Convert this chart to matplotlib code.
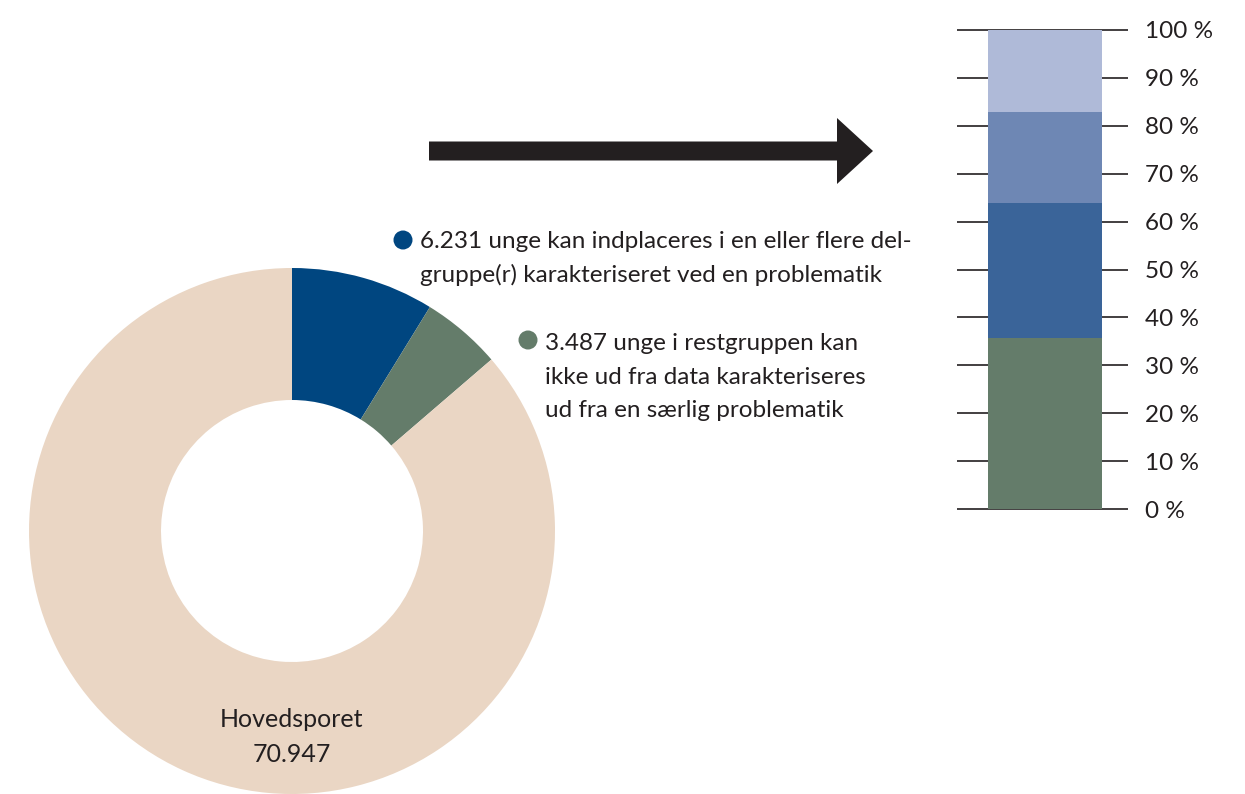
import matplotlib
matplotlib.use('Agg')
import matplotlib.pyplot as plt
from matplotlib.patches import FancyArrow, Circle

plt.rcParams['font.family'] = ['Lato', 'DejaVu Sans']

#### Data
hovedsporet = 70947
delgrupper = 6231
restgruppe = 3487
donut_values = [delgrupper, restgruppe, hovedsporet - delgrupper - restgruppe]
donut_colors = ['#004680', '#647c6a', '#ead6c4']

bar_values = [35.8, 28.1, 19.0, 17.1]      ## percent, bottom to top
bar_colors = ['#647c6a', '#3a6499', '#6e87b4', '#afbad8']
tick_values = [0, 10, 20, 30, 40, 50, 60, 70, 80, 90, 100]
tick_labels = ['0 %', '10 %', '20 %', '30 %', '40 %', '50 %', '60 %', '70 %', '80 %', '90 %', '100 %']

blue_lines = ['6.231 unge kan indplaceres i en eller flere del-',
              'gruppe(r) karakteriseret ved en problematik']
green_lines = ['3.487 unge i restgruppen kan',
               'ikke ud fra data karakteriseres',
               'ud fra en særlig problematik']

txt = '#231f20'
W, H = 1245, 794
fs = 17.5

fig = plt.figure(figsize=(W / 100, H / 100), dpi=100)

#### main axes in pixel coordinates (y up)
ax = fig.add_axes([0, 0, 1, 1])
ax.pie(donut_values, colors=donut_colors, radius=263, center=(292, H - 531),
       startangle=90, counterclock=False, wedgeprops=dict(width=132, linewidth=0))
ax.set_xlim(0, W)
ax.set_ylim(0, H)
ax.set_aspect('auto')
ax.axis('off')

ax.text(292, H - 727, 'Hovedsporet', ha='center', va='baseline', fontsize=18, color=txt)
ax.text(292, H - 762, '70.947', ha='center', va='baseline', fontsize=18, color=txt)

## arrow
ax.add_patch(FancyArrow(429, H - 151, 444, 0, width=19, head_width=66, head_length=36,
                        length_includes_head=True, color=txt, linewidth=0))

## legend dots + text
ax.add_patch(Circle((403, H - 240), 9.5, color=donut_colors[0], linewidth=0))
ax.add_patch(Circle((528, H - 340), 9.5, color=donut_colors[1], linewidth=0))
for i, line in enumerate(blue_lines):
    ax.text(420, H - 248 - 34 * i, line, ha='left', va='baseline', fontsize=fs, color=txt)
for i, line in enumerate(green_lines):
    ax.text(545, H - 350 - 33.5 * i, line, ha='left', va='baseline', fontsize=fs, color=txt)

#### stacked bar axes
bx = fig.add_axes([957 / W, (H - 509) / H, 171 / W, 479 / H])
bx.hlines(tick_values, 0, 1, color=txt, linewidth=1.2, zorder=1, clip_on=False)
bottom = 0
for v, c in zip(bar_values, bar_colors):
    bx.bar(0.5146, v, bottom=bottom, width=0.667, color=c, zorder=2, linewidth=0)
    bottom += v
bx.set_xlim(0, 1)
bx.set_ylim(0, 100)
bx.set_xticks([])
bx.set_yticks(tick_values)
bx.set_yticklabels(tick_labels)
bx.yaxis.tick_right()
bx.tick_params(axis='y', length=0, pad=12, labelsize=fs, labelcolor=txt)
for s in bx.spines.values():
    s.set_visible(False)

plt.savefig('out.png', dpi=100)
